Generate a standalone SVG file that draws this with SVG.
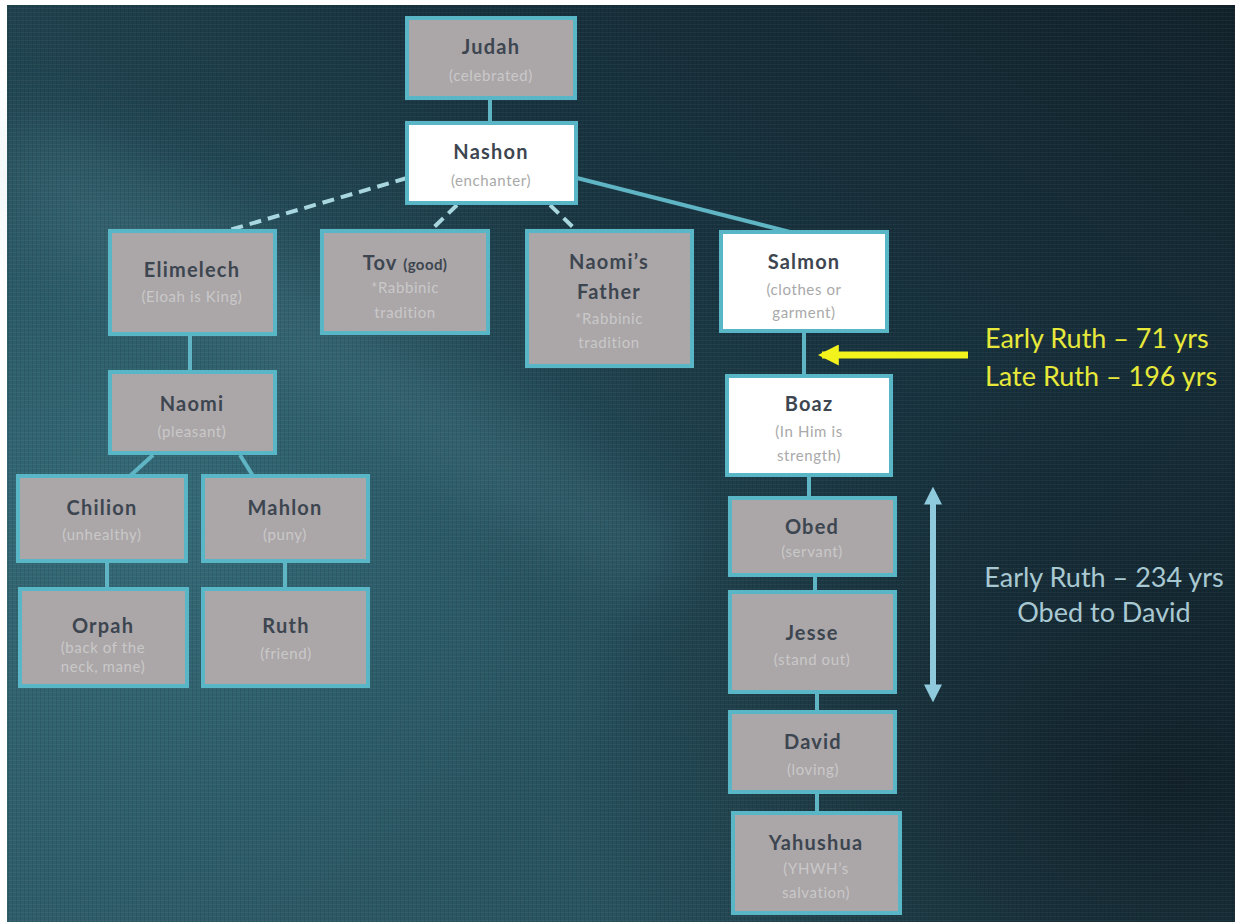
<svg xmlns="http://www.w3.org/2000/svg" width="1244" height="922" viewBox="0 0 1244 922">
  <defs>
    <linearGradient id="bgGrad" x1="0" y1="1" x2="1" y2="0">
      <stop offset="0" stop-color="#2f5e6a"/>
      <stop offset="0.35" stop-color="#26505c"/>
      <stop offset="0.65" stop-color="#183440"/>
      <stop offset="1" stop-color="#12222b"/>
    </linearGradient>
    <radialGradient id="glowLeft" cx="0.12" cy="0.55" r="0.45">
      <stop offset="0" stop-color="#3f7d8c" stop-opacity="0.55"/>
      <stop offset="1" stop-color="#3f7d8c" stop-opacity="0"/>
    </radialGradient>
    <radialGradient id="darkRight" cx="0.95" cy="0.85" r="0.5">
      <stop offset="0" stop-color="#0f1a22" stop-opacity="0.8"/>
      <stop offset="1" stop-color="#0f1a22" stop-opacity="0"/>
    </radialGradient>
    <filter id="soft" x="-30%" y="-30%" width="160%" height="160%">
      <feGaussianBlur stdDeviation="35"/>
    </filter>
    <pattern id="canvas" width="4" height="4" patternUnits="userSpaceOnUse">
      <rect x="0" y="0" width="4" height="1" fill="#ffffff" opacity="0.04"/>
      <rect x="0" y="0" width="1" height="4" fill="#000000" opacity="0.08"/>
    </pattern>
    <marker id="yHead" viewBox="0 0 10 10" refX="8" refY="5" markerWidth="3" markerHeight="3" orient="auto-start-reverse">
      <path d="M0,0 L10,5 L0,10 Z" fill="#f2f21c"/>
    </marker>
    <marker id="bHead" viewBox="0 0 10 10" refX="7" refY="5" markerWidth="3" markerHeight="3" orient="auto-start-reverse">
      <path d="M0,0 L10,5 L0,10 Z" fill="#8fc9dc"/>
    </marker>
    <style>
      .box { fill: #aba6a8; stroke: #58b6c6; stroke-width: 4; }
      .boxw { fill: #ffffff; stroke: #58b6c6; stroke-width: 4; }
      .name { font-family: Lato, "Open Sans", sans-serif; font-size: 20px; font-weight: 700; fill: #3d4650; text-anchor: middle; letter-spacing: 1.2px; }
      .sub { font-family: Lato, "Open Sans", sans-serif; font-size: 15px; fill: #c9c9c9; text-anchor: middle; letter-spacing: 0.6px; }
      .subw { font-family: Lato, "Open Sans", sans-serif; font-size: 15px; fill: #a9a9a9; text-anchor: middle; letter-spacing: 0.6px; }
      .small { font-family: Lato, "Open Sans", sans-serif; font-size: 15px; font-weight: 700; fill: #3d4650; letter-spacing: 0.4px; }
      .line { stroke: #5fb5c4; stroke-width: 4; fill: none; }
      .dash { stroke: #a9d7e0; stroke-width: 4; fill: none; stroke-dasharray: 12 7; }
      .note { font-family: Lato, "Open Sans", sans-serif; font-size: 27px; }
    </style>
  </defs>

  <!-- page margin and textured backdrop -->
  <rect x="0" y="0" width="1244" height="922" fill="#ffffff"/>
  <g id="backdrop">
    <rect x="7" y="5" width="1228" height="917" fill="url(#bgGrad)"/>
    <rect x="7" y="5" width="1228" height="917" fill="url(#glowLeft)"/>
    <rect x="7" y="5" width="1228" height="917" fill="url(#darkRight)"/>
    <path d="M7,120 L60,120 L700,540 L650,600 L7,220 Z" fill="#6aa6b4" opacity="0.18" filter="url(#soft)"/>
    <rect x="7" y="5" width="1228" height="917" fill="url(#canvas)"/>
  </g>

  <!-- connectors -->
  <g id="connectors">
    <line class="line" x1="490" y1="98" x2="490" y2="123"/>
    <line class="dash" x1="407" y1="178" x2="226" y2="231"/>
    <line class="dash" x1="457" y1="205" x2="430" y2="231"/>
    <line class="dash" x1="550" y1="205" x2="577" y2="231"/>
    <line class="line" x1="577" y1="178" x2="790" y2="232"/>
    <line class="line" x1="190" y1="334" x2="190" y2="372"/>
    <line class="line" x1="153" y1="455" x2="130" y2="476"/>
    <line class="line" x1="240" y1="455" x2="253" y2="476"/>
    <line class="line" x1="107" y1="561" x2="107" y2="589"/>
    <line class="line" x1="285" y1="561" x2="285" y2="589"/>
    <line class="line" x1="804" y1="331" x2="804" y2="376"/>
    <line class="line" x1="809" y1="475" x2="809" y2="498"/>
    <line class="line" x1="815" y1="575" x2="815" y2="592"/>
    <line class="line" x1="817" y1="692" x2="817" y2="712"/>
    <line class="line" x1="817" y1="792" x2="817" y2="813"/>
    <line x1="968" y1="355" x2="822" y2="355" stroke="#f2f21c" stroke-width="7" marker-end="url(#yHead)"/>
    <line x1="933" y1="492" x2="933" y2="697" stroke="#8fc9dc" stroke-width="6" marker-start="url(#bHead)" marker-end="url(#bHead)"/>
  </g>

  <g id="judah">
    <rect class="box" x="407" y="18" width="168" height="80"/>
    <text class="name" x="491" y="54">Judah</text>
    <text class="sub" x="491" y="81">(celebrated)</text>
  </g>
  <g id="nashon">
    <rect class="boxw" x="407" y="123" width="169" height="80"/>
    <text class="name" x="491" y="159">Nashon</text>
    <text class="subw" x="491" y="186">(enchanter)</text>
  </g>
  <g id="elimelech">
    <rect class="box" x="110" y="231" width="165" height="103"/>
    <text class="name" x="192" y="277">Elimelech</text>
    <text class="sub" x="192" y="302">(Eloah is King)</text>
  </g>
  <g id="tov">
    <rect class="box" x="322" y="231" width="166" height="102"/>
    <text class="name" x="405" y="270">Tov <tspan class="small">(good)</tspan></text>
    <text class="sub" x="405" y="293">*Rabbinic</text>
    <text class="sub" x="405" y="318">tradition</text>
  </g>
  <g id="naomis-father">
    <rect class="box" x="527" y="231" width="165" height="135"/>
    <text class="name" x="609" y="269">Naomi’s</text>
    <text class="name" x="609" y="299">Father</text>
    <text class="sub" x="609" y="324">*Rabbinic</text>
    <text class="sub" x="609" y="348">tradition</text>
  </g>
  <g id="salmon">
    <rect class="boxw" x="721" y="232" width="166" height="99"/>
    <text class="name" x="804" y="269">Salmon</text>
    <text class="subw" x="804" y="295">(clothes or</text>
    <text class="subw" x="804" y="318">garment)</text>
  </g>
  <g id="naomi">
    <rect class="box" x="110" y="372" width="165" height="81"/>
    <text class="name" x="192" y="411">Naomi</text>
    <text class="sub" x="192" y="437">(pleasant)</text>
  </g>
  <g id="chilion">
    <rect class="box" x="18" y="476" width="168" height="85"/>
    <text class="name" x="102" y="515">Chilion</text>
    <text class="sub" x="102" y="540">(unhealthy)</text>
  </g>
  <g id="mahlon">
    <rect class="box" x="203" y="476" width="165" height="85"/>
    <text class="name" x="285" y="515">Mahlon</text>
    <text class="sub" x="285" y="540">(puny)</text>
  </g>
  <g id="orpah">
    <rect class="box" x="20" y="589" width="167" height="97"/>
    <text class="name" x="103" y="633">Orpah</text>
    <text class="sub" x="103" y="653">(back of the</text>
    <text class="sub" x="103" y="672">neck, mane)</text>
  </g>
  <g id="ruth">
    <rect class="box" x="203" y="589" width="165" height="97"/>
    <text class="name" x="286" y="633">Ruth</text>
    <text class="sub" x="286" y="659">(friend)</text>
  </g>
  <g id="boaz">
    <rect class="boxw" x="727" y="376" width="164" height="99"/>
    <text class="name" x="809" y="411">Boaz</text>
    <text class="subw" x="809" y="437">(In Him is</text>
    <text class="subw" x="809" y="461">strength)</text>
  </g>
  <g id="obed">
    <rect class="box" x="730" y="498" width="165" height="77"/>
    <text class="name" x="812" y="534">Obed</text>
    <text class="sub" x="812" y="557">(servant)</text>
  </g>
  <g id="jesse">
    <rect class="box" x="730" y="592" width="165" height="100"/>
    <text class="name" x="812" y="640">Jesse</text>
    <text class="sub" x="812" y="665">(stand out)</text>
  </g>
  <g id="david">
    <rect class="box" x="730" y="712" width="165" height="80"/>
    <text class="name" x="813" y="749">David</text>
    <text class="sub" x="813" y="775">(loving)</text>
  </g>
  <g id="yahushua">
    <rect class="box" x="733" y="813" width="167" height="100"/>
    <text class="name" x="816" y="850">Yahushua</text>
    <text class="sub" x="816" y="874">(YHWH’s</text>
    <text class="sub" x="816" y="898">salvation)</text>
  </g>

  <!-- timeline notes -->
  <g id="notes">
    <text class="note" x="985" y="348" fill="#e6e83a">Early Ruth – 71 yrs</text>
    <text class="note" x="985" y="386" fill="#e6e83a">Late Ruth – 196 yrs</text>
    <text class="note" x="1104" y="587" fill="#a9c9d2" text-anchor="middle">Early Ruth – 234 yrs</text>
    <text class="note" x="1104" y="622" fill="#a9c9d2" text-anchor="middle">Obed to David</text>
  </g>
</svg>
